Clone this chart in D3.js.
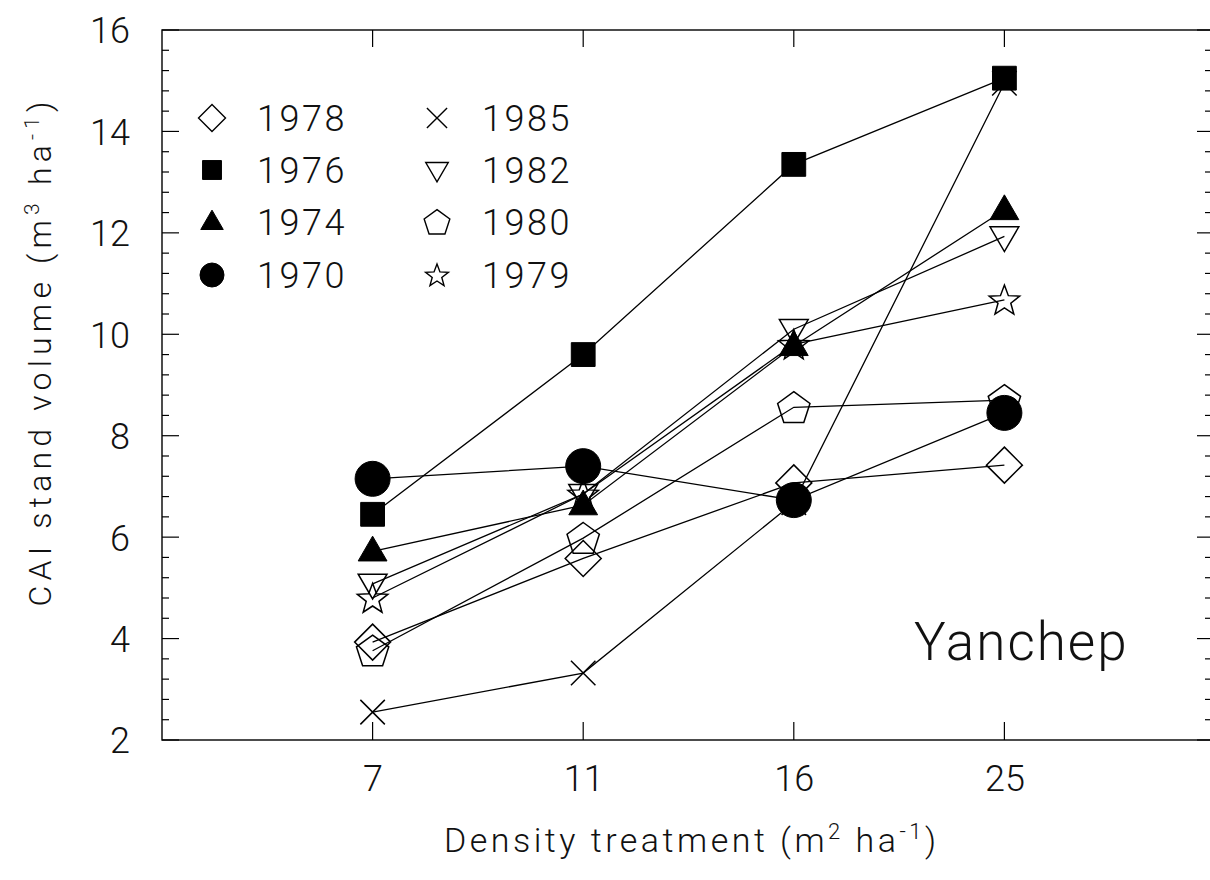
<!DOCTYPE html>
<html>
<head>
<meta charset="utf-8">
<script src="https://cdn.jsdelivr.net/npm/d3@7"></script>
<style>
  html, body { margin: 0; padding: 0; background: #fff; overflow: hidden; }
  svg { display: block; }
  text { font-family: Roboto, "Liberation Sans", sans-serif; font-weight: 300; fill: #111; }
</style>
</head>
<body>
<svg id="chart" width="1210" height="880"></svg>
<script>
// ---------- data ----------
const categories = ["7", "11", "16", "25"];
const yTickValues = [2, 4, 6, 8, 10, 12, 14, 16];

const years = ["1978", "1976", "1974", "1970", "1985", "1982", "1980", "1979"];
const v1978 = [3.93, 5.58, 7.07, 7.42];
const v1976 = [6.45, 9.60, 13.35, 15.05];
const v1974 = [5.72, 6.63, 9.77, 12.45];
const v1970 = [7.15, 7.40, 6.73, 8.45];
const v1985 = [2.55, 3.32, 6.68, 14.95];
const v1982 = [5.08, 6.85, 10.10, 11.93];
const v1980 = [3.76, 5.98, 8.56, 8.70];
const v1979 = [4.80, 6.85, 9.80, 10.68];

const seriesValues = [v1978, v1976, v1974, v1970, v1985, v1982, v1980, v1979];
const seriesSymbols = ["diamond", "square", "triangle", "circle", "times", "triangleDown", "pentagon", "star"];
const seriesFilled  = [false, true, true, true, false, false, false, false];

// ---------- layout ----------
const svg = d3.select("#chart");
const pLeft = 162, pRight = 1214, pTop = 30, pBottom = 740;

const x = d3.scaleLinear().domain([0, 5]).range([pLeft, pLeft + 5 * 210.6]);
const y = d3.scaleLinear().domain([2, 16]).range([pBottom, pTop]);

// ---------- custom symbol types ----------
function poly(ctx, pts) {
  ctx.moveTo(pts[0][0], pts[0][1]);
  for (let i = 1; i < pts.length; i++) ctx.lineTo(pts[i][0], pts[i][1]);
  ctx.closePath();
}
const symTypes = {
  diamond: { draw(ctx, r) { poly(ctx, [[0, -r], [r, 0], [0, r], [-r, 0]]); } },
  square: { draw(ctx, r) { const h = r * 0.7; poly(ctx, [[-h, -h], [h, -h], [h, h], [-h, h]]); } },
  triangle: { draw(ctx, r) { poly(ctx, [[0, -r * 0.95], [r * 0.9, r * 0.6], [-r * 0.9, r * 0.6]]); } },
  triangleDown: { draw(ctx, r) { poly(ctx, [[-r * 0.9, -r * 0.6], [r * 0.9, -r * 0.6], [0, r * 0.95]]); } },
  circle: { draw(ctx, r) { ctx.moveTo(r, 0); ctx.arc(0, 0, r, 0, 2 * Math.PI); } },
  times: { draw(ctx, r) { const h = r * 0.72; ctx.moveTo(-h, -h); ctx.lineTo(h, h); ctx.moveTo(h, -h); ctx.lineTo(-h, h); } },
  pentagon: { draw(ctx, r) {
    const pts = d3.range(5).map(i => { const a = -Math.PI / 2 + i * 2 * Math.PI / 5; return [r * Math.cos(a), r * Math.sin(a) + r * 0.08]; });
    poly(ctx, pts);
  } },
  star: { draw(ctx, r) {
    const pts = d3.range(10).map(i => { const a = -Math.PI / 2 + i * Math.PI / 5; const rr = i % 2 ? r * 0.42 : r; return [rr * Math.cos(a), rr * Math.sin(a) + r * 0.08]; });
    poly(ctx, pts);
  } }
};
const plotR = { diamond: 18, square: 17, triangle: 16, triangleDown: 16, circle: 17.5, times: 17, pentagon: 17, star: 16 };
const legR  = { diamond: 13.5, square: 13.5, triangle: 12.5, triangleDown: 12.5, circle: 12, times: 14, pentagon: 13.5, star: 12 };
function symPath(type, r) { return d3.symbol().type(symTypes[type]).size(r)(); }

// ---------- frame ----------
svg.append("rect").attr("x", pLeft).attr("y", pTop).attr("width", pRight - pLeft).attr("height", pBottom - pTop)
  .attr("fill", "none").attr("stroke", "#000").attr("stroke-width", 1.4);

// y ticks on left & right (major every 2, minor every 0.4)
const minorY = d3.range(0, 36).map(i => +(2 + i * 0.4).toFixed(2));
const isMajor = d => Math.abs(d / 2 - Math.round(d / 2)) < 0.001;
svg.append("g").selectAll("line").data(minorY).join("line")
  .attr("x1", pLeft).attr("x2", d => pLeft + (isMajor(d) ? 17 : 7))
  .attr("y1", d => y(d)).attr("y2", d => y(d)).attr("stroke", "#000").attr("stroke-width", 1.2);
svg.append("g").selectAll("line").data(minorY).join("line")
  .attr("x1", pRight).attr("x2", d => pRight - (isMajor(d) ? 17 : 9))
  .attr("y1", d => y(d)).attr("y2", d => y(d)).attr("stroke", "#000").attr("stroke-width", 1.2);

// y tick labels via d3 axis
const yAxis = d3.axisLeft(y).tickValues(yTickValues).tickSize(0).tickPadding(0).tickFormat(d3.format("d"));
const gYA = svg.append("g").attr("transform", "translate(130,0)").call(yAxis);
gYA.select(".domain").remove();
gYA.selectAll("text").attr("font-size", 36).attr("font-family", "Roboto, 'Liberation Sans', sans-serif")
  .attr("font-weight", 300).attr("fill", "#111").attr("dy", "0.36em").attr("x", 0);

// x ticks bottom & top
const xIdx = categories.map((c, i) => i + 1);
svg.append("g").selectAll("line").data(xIdx).join("line")
  .attr("x1", d => x(d)).attr("x2", d => x(d)).attr("y1", pBottom).attr("y2", pBottom - 18)
  .attr("stroke", "#000").attr("stroke-width", 1.2);
svg.append("g").selectAll("line").data(xIdx).join("line")
  .attr("x1", d => x(d)).attr("x2", d => x(d)).attr("y1", pTop).attr("y2", pTop + 17)
  .attr("stroke", "#000").attr("stroke-width", 1.2);

const xAxis = d3.axisBottom(x).tickValues(xIdx).tickSize(0).tickPadding(0).tickFormat((d, i) => categories[i]);
const gXA = svg.append("g").attr("transform", `translate(0,${pBottom})`).call(xAxis);
gXA.select(".domain").remove();
gXA.selectAll("text").attr("font-size", 36).attr("font-family", "Roboto, 'Liberation Sans', sans-serif")
  .attr("font-weight", 300).attr("fill", "#111").attr("dy", "0").attr("y", 51);

// ---------- lines ----------
const line = d3.line().x((d, i) => x(i + 1)).y(d => y(d));
svg.append("g").selectAll("path").data(seriesValues).join("path")
  .attr("d", d => line(d)).attr("fill", "none").attr("stroke", "#000").attr("stroke-width", 1.3);

// ---------- markers ----------
seriesValues.forEach((vals, si) => {
  const type = seriesSymbols[si];
  const filled = seriesFilled[si];
  svg.append("g").selectAll("path").data(vals).join("path")
    .attr("transform", (d, i) => `translate(${x(i + 1)},${y(d)})`)
    .attr("d", symPath(type, plotR[type]))
    .attr("fill", filled ? "#000" : "none")
    .attr("stroke", "#000").attr("stroke-width", filled ? 1 : 1.5);
});

// ---------- legend ----------
const legRows = [118, 170, 222, 275];
const legend = svg.append("g");
years.forEach((yr, si) => {
  const col = si < 4 ? 0 : 1;
  const row = si % 4;
  const mx = col === 0 ? 212 : 437;
  const tx = col === 0 ? 257 : 482;
  const type = seriesSymbols[si];
  legend.append("path")
    .attr("transform", `translate(${mx},${legRows[row]})`)
    .attr("d", symPath(type, legR[type]))
    .attr("fill", seriesFilled[si] ? "#000" : "none")
    .attr("stroke", "#000").attr("stroke-width", seriesFilled[si] ? 1 : 1.4);
  legend.append("text").attr("x", tx).attr("y", legRows[row]).attr("dy", "0.36em")
    .attr("font-size", 36).style("letter-spacing", "2.5px").text(yr);
});

// ---------- annotation ----------
svg.append("text").attr("x", 914).attr("y", 660).attr("font-size", 53)
  .style("letter-spacing", "2px").text("Yanchep");

// ---------- axis titles ----------
const xt = svg.append("text").attr("x", 690).attr("y", 852).attr("text-anchor", "middle")
  .attr("font-size", 34).attr("textLength", 492).attr("lengthAdjust", "spacing");
xt.append("tspan").text("Density  treatment (m");
xt.append("tspan").attr("font-size", 22).attr("dy", -13).text("2");
xt.append("tspan").attr("dy", 13).text(" ha");
xt.append("tspan").attr("font-size", 22).attr("dy", -13).text("-1");
xt.append("tspan").attr("dy", 13).text(")");

const yt = svg.append("text").attr("transform", "translate(51,354) rotate(-90)").attr("text-anchor", "middle")
  .attr("font-size", 32).attr("textLength", 505).attr("lengthAdjust", "spacing");
yt.append("tspan").text("CAI stand volume (m");
yt.append("tspan").attr("font-size", 21).attr("dy", -12).text("3");
yt.append("tspan").attr("dy", 12).text(" ha");
yt.append("tspan").attr("font-size", 21).attr("dy", -12).text("-1");
yt.append("tspan").attr("dy", 12).text(")");
</script>
</body>
</html>
